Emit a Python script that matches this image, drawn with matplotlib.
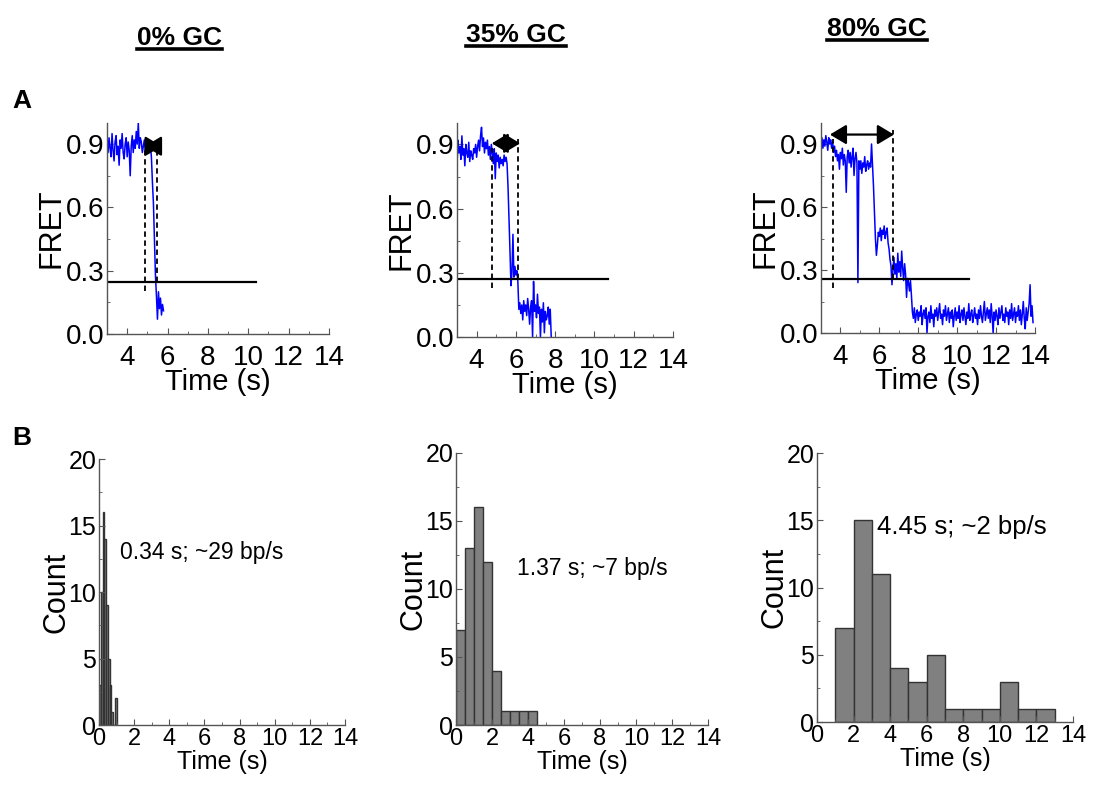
import numpy as np
import matplotlib
matplotlib.use('Agg')
import matplotlib.pyplot as plt
from matplotlib.lines import Line2D
from matplotlib.ticker import MultipleLocator

plt.rcParams['font.family'] = ['Liberation Sans', 'DejaVu Sans']

# FRET traces, frames every DT seconds starting at T0
T0 = 3.0
DT = 0.05
fret_0gc = [0.90, 0.86, 0.93, 0.88, 0.84, 0.95, 0.87, 0.82, 0.91, 0.94, 0.85,
            0.89, 0.80, 0.92, 0.88, 0.95, 0.86, 0.83, 0.90, 0.93, 0.84,
            0.91, 0.87, 0.75, 0.89, 0.94, 0.86, 0.92, 0.88, 0.96, 0.90,
            1.00, 0.88, 0.93, 0.91, 0.86, 0.89, 0.92, 0.87, 0.90, 0.88,
            0.91, 0.86, 0.89, 0.84, 0.72, 0.62, 0.45, 0.28, 0.18, 0.07,
            0.20, 0.12, 0.17, 0.09, 0.14, 0.11]
fret_35gc = [0.80, 0.92, 0.86, 0.89, 0.83, 0.94, 0.85, 0.88, 0.80, 0.90,
             0.86, 0.84, 0.91, 0.82, 0.87, 0.85, 0.83, 0.88, 0.86, 0.90,
             0.84, 0.89, 0.92, 0.87, 0.94, 0.98, 0.89, 0.93, 0.86, 0.91,
             0.88, 0.92, 0.85, 0.89, 0.83, 0.90, 0.86, 0.81, 0.88, 0.74,
             0.86, 0.82, 0.85, 0.79, 0.84, 0.81, 0.83, 0.80, 0.85, 0.82,
             0.84, 0.81, 0.70, 0.55, 0.40, 0.24, 0.30, 0.48, 0.28, 0.33,
             0.29, 0.31, 0.26, 0.13, 0.16, 0.11, 0.15, 0.08, 0.17, 0.12,
             0.15, 0.10, 0.18, 0.13, 0.06, 0.14, 0.17, 0.00, 0.26, 0.12,
             0.15, 0.09, 0.20, 0.11, 0.14, 0.00, 0.13, 0.07, 0.16, 0.02,
             0.12, 0.08, 0.10, 0.14, 0.06, 0.13, 0.00]
fret_80gc = [0.90, 0.93, 0.88, 0.92, 0.89, 0.94, 0.91, 0.87, 0.93, 0.90,
             0.92, 0.88, 0.91, 0.86, 0.89, 0.84, 0.87, 0.82, 0.85, 0.78,
             0.86, 0.83, 0.88, 0.80, 0.85, 0.82, 0.67, 0.84, 0.87, 0.81,
             0.86, 0.79, 0.84, 0.88, 0.75, 0.83, 0.86, 0.81, 0.24, 0.82,
             0.78, 0.82, 0.76, 0.81, 0.79, 0.84, 0.77, 0.80, 0.82, 0.78,
             0.81, 0.79, 0.90, 0.80, 0.70, 0.58, 0.45, 0.37, 0.42, 0.48,
             0.46, 0.50, 0.44, 0.49, 0.47, 0.51, 0.45, 0.48, 0.50, 0.43,
             0.40, 0.35, 0.32, 0.23, 0.30, 0.36, 0.28, 0.33, 0.26, 0.38,
             0.29, 0.34, 0.27, 0.39, 0.31, 0.25, 0.33, 0.28, 0.17, 0.26,
             0.24, 0.20, 0.25, 0.18, 0.10, 0.07, 0.12, 0.05, 0.09, 0.11,
             0.06, 0.10, 0.08, 0.13, 0.04, 0.09, 0.11, 0.07, 0.12, 0.00,
             0.08, 0.10, 0.05, 0.13, 0.07, 0.09, 0.03, 0.11, 0.08, 0.12,
             0.06, 0.10, 0.14, 0.07, 0.09, 0.04, 0.11, 0.08, 0.13, 0.06,
             0.09, 0.12, 0.05, 0.10, 0.07, 0.11, 0.03, 0.08, 0.12, 0.06,
             0.10, 0.07, 0.13, 0.05, 0.09, 0.11, 0.06, 0.12, 0.08, 0.04,
             0.10, 0.07, 0.14, 0.06, 0.09, 0.11, 0.05, 0.08, 0.12, 0.07,
             0.09, 0.04, 0.11, 0.07, 0.13, 0.08, 0.05, 0.10, 0.15, 0.06,
             0.09, 0.12, 0.07, 0.11, 0.05, 0.14, 0.08, 0.00, 0.10, 0.06,
             0.11, 0.08, 0.04, 0.12, 0.07, 0.10, 0.13, 0.06, 0.09, 0.05,
             0.12, 0.08, 0.10, 0.04, 0.11, 0.07, 0.14, 0.06, 0.09, 0.12,
             0.05, 0.10, 0.08, 0.13, 0.06, 0.11, 0.04, 0.09, 0.15, 0.07,
             0.02, 0.12, 0.06, 0.10, 0.14, 0.23, 0.08, 0.13, 0.05]
traces = [fret_0gc, fret_35gc, fret_80gc]

titles = ['0% GC', '35% GC', '80% GC']
dwell_start = [4.88, 4.77, 3.63]
dwell_end = [5.49, 6.12, 6.72]
arrow_start = [4.88, 4.77, 3.46]
arrow_end = [5.71, 6.22, 6.75]
arrow_y = [0.89, 0.905, 0.945]
threshold = [0.245, 0.27, 0.255]
threshold_end = [10.4, 10.7, 10.6]

# dwell time histograms
hist_width = [0.1, 0.5, 1.0]
hist_start = [0.0, 0.0, 1.0]
counts_0gc = [3, 10, 16, 14, 9, 5, 3, 1, 0, 2]
counts_35gc = [7, 13, 16, 12, 4, 1, 1, 1, 1]
counts_80gc = [7, 15, 11, 4, 3, 5, 1, 1, 1, 3, 1, 1]
hist_counts = [counts_0gc, counts_35gc, counts_80gc]
rate_labels = ['0.34 s; ~29 bp/s', '1.37 s; ~7 bp/s', '4.45 s; ~2 bp/s']

fig = plt.figure(figsize=(10.93, 7.86), dpi=100)

top_pos = [[0.0979, 0.5751, 0.2031, 0.2684],
           [0.4181, 0.5712, 0.1976, 0.2723],
           [0.7511, 0.5763, 0.1958, 0.2672]]
bot_pos = [[0.0906, 0.0776, 0.2251, 0.3384],
           [0.4172, 0.0776, 0.2306, 0.3461],
           [0.7475, 0.0814, 0.2342, 0.3422]]
label_pos = [(1.2, 13.0), (3.4, 11.5), (3.3, 14.5)]
label_size = [16.5, 16.5, 18.5]
title_x = [0.1642, 0.472, 0.8024]
title_base = [0.9427, 0.9466, 0.9542]


def style_axes(ax, size):
    for s in ['top', 'right']:
        ax.spines[s].set_visible(False)
    for s in ['left', 'bottom']:
        ax.spines[s].set_color('#555555')
        ax.spines[s].set_linewidth(1.0)
    ax.tick_params(which='both', direction='in', color='#555555', pad=2)
    ax.tick_params(which='major', length=4, labelsize=size)
    ax.tick_params(which='minor', length=2.5)


for i in range(3):
    ax = fig.add_axes(top_pos[i])
    vals = np.array(traces[i])
    t = T0 + DT * np.arange(len(vals))
    ax.plot(t, vals, color='#0000ff', lw=1.1)
    ax.plot([T0, threshold_end[i]], [threshold[i], threshold[i]], color='black', lw=1.6)
    ax.plot([dwell_start[i]] * 2, [threshold[i] - 0.04, arrow_y[i] - 0.02], color='black',
            lw=1.3, dashes=(3, 2))
    ax.plot([dwell_end[i]] * 2, [threshold[i], arrow_y[i] + 0.02], color='black',
            lw=1.3, dashes=(3, 2))
    ax.annotate('', xy=(arrow_end[i], arrow_y[i]), xytext=(arrow_start[i], arrow_y[i]),
                arrowprops=dict(arrowstyle='<|-|>,head_length=1.0,head_width=0.6',
                                color='black', lw=1.6, shrinkA=0, shrinkB=0,
                                mutation_scale=10))
    ax.set_xlim(3, 14)
    ax.set_ylim(0, 1.0)
    ax.set_xticks([4, 6, 8, 10, 12, 14])
    ax.xaxis.set_minor_locator(MultipleLocator(1))
    ax.set_yticks([0.0, 0.3, 0.6, 0.9])
    ax.yaxis.set_minor_locator(MultipleLocator(0.15))
    ax.set_yticklabels(['0.0', '0.3', '0.6', '0.9'])
    style_axes(ax, 20)
    ax.tick_params(axis='x', which='both', pad=8)
    ax.set_xlabel('Time (s)', fontsize=21, labelpad=-2)
    ax.set_ylabel('FRET', fontsize=22, labelpad=-1)

    bx = fig.add_axes(bot_pos[i])
    n = len(hist_counts[i])
    left = hist_start[i] + hist_width[i] * np.arange(n)
    bx.bar(left, hist_counts[i], width=hist_width[i], align='edge',
           color='#808080', edgecolor='#333333', linewidth=1.0)
    bx.set_xlim(0, 14)
    bx.set_ylim(0, 20)
    bx.set_xticks(range(0, 15, 2))
    bx.xaxis.set_minor_locator(MultipleLocator(1))
    bx.set_yticks([0, 5, 10, 15, 20])
    bx.yaxis.set_minor_locator(MultipleLocator(2.5))
    style_axes(bx, 18)
    bx.tick_params(axis='x', which='both', labelsize=17, pad=2)
    bx.set_xlabel('Time (s)', fontsize=18, labelpad=0)
    bx.set_ylabel('Count', fontsize=22, labelpad=-2)
    bx.text(label_pos[i][0], label_pos[i][1], rate_labels[i], fontsize=label_size[i],
            ha='left', va='center')

# column titles, underlined
renderer = fig.canvas.get_renderer()
for i in range(3):
    txt = fig.text(title_x[i], title_base[i], titles[i], fontsize=19,
                   fontweight='bold', ha='center', va='baseline')
    bb = txt.get_window_extent(renderer).transformed(fig.transFigure.inverted())
    yline = title_base[i] - 0.0055
    fig.add_artist(Line2D([bb.x0, bb.x1], [yline, yline], transform=fig.transFigure,
                          color='black', lw=2.6))

fig.text(0.011, 0.872, 'A', fontsize=19, fontweight='bold', ha='left', va='center')
fig.text(0.011, 0.443, 'B', fontsize=19, fontweight='bold', ha='left', va='center')

fig.savefig('out.png', dpi=100)
